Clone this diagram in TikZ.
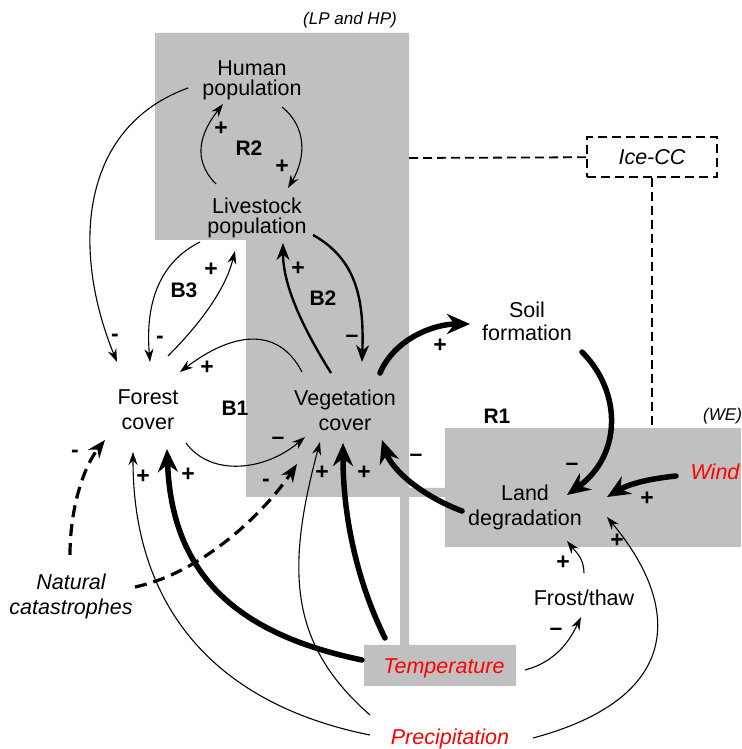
\documentclass[tikz,border=0pt]{standalone}
\usepackage{fontspec}
\setmainfont{Liberation Sans}
\usetikzlibrary{arrows.meta}
\definecolor{boxgray}{RGB}{192,192,192}
\newcommand\sgnplus{+}
\newcommand\sgnminus{\textendash}
\newcommand\sgnshort{-}

\tikzset{
  var/.style={align=center, inner sep=0pt, font=\fontsize{21.5}{25}\selectfont},
  ext/.style={align=center, inner sep=0pt, font=\itshape\fontsize{21.5}{25}\selectfont},
  loopname/.style={inner sep=0pt, font=\bfseries\fontsize{21}{24}\selectfont},
  sgn/.style={inner sep=0pt, font=\bfseries\fontsize{23}{24}\selectfont},
  weak/.style={-{Stealth[length=13pt,width=9pt]}, line width=1.1pt},
  medium/.style={-{Stealth[length=17pt,width=13pt]}, line width=2.4pt},
  strong/.style={-{Stealth[length=23pt,width=20pt]}, line width=5.5pt, line cap=round},
  hazard/.style={-{Stealth[length=18pt,width=14pt]}, line width=3.2pt, dash pattern=on 12pt off 7pt},
  link/.style={line width=1.8pt, dash pattern=on 9pt off 5pt},
}

\begin{document}
\begin{tikzpicture}[x=1pt,y=1pt]
\useasboundingbox (0,0) rectangle (741,749);
\clip (0,0) rectangle (741,749);

% grey areas
\fill[boxgray] (155,716) -- (409,716) -- (409,261) -- (445,261) -- (445,252) -- (409,252)
  -- (409,104) -- (516,104) -- (516,63) -- (364,63) -- (364,104) -- (400,104)
  -- (400,252) -- (246,252) -- (246,509) -- (155,509) -- cycle;
\fill[boxgray] (445,321) rectangle (741,202);
\node[inner sep=0pt, font=\itshape\fontsize{17}{20}\selectfont] (lphplbl) at (350,729) {(LP and HP)};
\node[inner sep=0pt, anchor=west, font=\itshape\fontsize{17}{20}\selectfont] (welbl) at (703,333) {(WE)};
\coordinate (lphp) at (409,591);
\coordinate (we) at (652,321);

% variables
\node[var, font=\fontsize{21.5}{19.5}\selectfont] (hp) at (252,668.5) {Human\\population};
\node[var, font=\fontsize{21.5}{20}\selectfont] (lp) at (257,531) {Livestock\\population};
\node[var] (fc) at (148,339.5) {Forest\\cover};
\node[var] (vc) at (345,339) {Vegetation\\cover};
\node[var, font=\fontsize{21.5}{22.5}\selectfont] (sf) at (527,427.5) {Soil\\formation};
\node[var] (ld) at (525,241.5) {Land\\degradation};
\node[var] (ft) at (584,151) {Frost/thaw};
\node[ext, text=red] (tp) at (444,81) {Temperature};
\node[ext, text=red] (pr) at (450,10) {Precipitation};
\node[ext, text=red] (wd) at (715,277.5) {Wind};
\node[ext] (nc) at (71,153) {Natural\\catastrophes};
\node[ext, draw, link, fill=white, minimum width=130pt, minimum height=40pt] (ice) at (652,592) {Ice-CC};

% loop names
\node[loopname] (r2) at (249,601) {R2};
\node[loopname] (b3) at (184,459) {B3};
\node[loopname] (b2) at (323,451) {B2};
\node[loopname] (b1) at (235,341) {B1};
\node[loopname] (r1) at (497,333) {R1};

% dashed links
\draw[link] (lphp) -- (ice);
\draw[link] (ice) -- (we);

% human and livestock
\draw[weak] ([shift={(30,-26.5)}]hp.center) .. controls +(25,-20) and +(18,30) .. ([shift={(31,30)}]lp.center);
\draw[weak] ([shift={(-41,34)}]lp.center) .. controls +(-25,25) and +(-22,-28) .. ([shift={(-29,-23.5)}]hp.center);
\draw[weak] ([shift={(-64,-7.5)}]hp.center) .. controls +(-110,-40) and +(-45,110) .. ([shift={(-31,47.5)}]fc.center);
\draw[weak] ([shift={(-57,-24)}]lp.center) .. controls +(-40,-20) and +(-5,60) .. ([shift={(2,47.5)}]fc.center);
\draw[weak] ([shift={(20,53.5)}]fc.center) .. controls +(30,30) and +(-10,-40) .. ([shift={(-22,-33)}]lp.center);
\draw[medium] ([shift={(-14,37)}]vc.center) .. controls +(-25,40) and +(0,-45) .. ([shift={(26,-25)}]lp.center);
\draw[medium] ([shift={(56,-17)}]lp.center) .. controls +(45,-25) and +(2,60) .. ([shift={(17,48)}]vc.center);

% forest and vegetation
\draw[weak] ([shift={(-43,38)}]vc.center) .. controls +(-25,48) and +(50,38) .. ([shift={(32,37.5)}]fc.center);
\draw[weak] ([shift={(38,-33.5)}]fc.center) .. controls +(25,-34) and +(-40,-34) .. ([shift={(-40,-27)}]vc.center);

% soil and land
\draw[strong] ([shift={(35,37)}]vc.center) .. controls +(15,35) and +(-35,0) .. ([shift={(-57,-2.5)}]sf.center);
\draw[strong] ([shift={(55,-30.5)}]sf.center) .. controls +(40,-40) and +(55,40) .. ([shift={(42,12.5)}]ld.center);
\draw[strong] ([shift={(-63,-3.5)}]ld.center) .. controls +(-40,15) and +(10,-30) .. ([shift={(37,-30)}]vc.center);
\draw[strong] ([shift={(-39,-4.5)}]wd.center) .. controls +(-30,-3) and +(20,12) .. ([shift={(82,10.5)}]ld.center);
\draw[weak] ([shift={(83,1)}]pr.center) .. controls +(150,40) and +(75,-90) .. ([shift={(82,-9.5)}]ld.center);
\draw[weak] ([shift={(0,25)}]ft.center) .. controls +(0,15) and +(8,-10) .. ([shift={(42,-33.5)}]ld.center);
\draw[weak] ([shift={(81,-2)}]tp.center) .. controls +(30,8) and +(-12,-25) .. ([shift={(-3,-19)}]ft.center);

% climate
\draw[strong] ([shift={(-82,8)}]tp.center) .. controls +(-120,25) and +(5,-130) .. ([shift={(19,-39.5)}]fc.center);
\draw[strong] ([shift={(-59,30)}]tp.center) .. controls +(-25,50) and +(0,-80) .. ([shift={(-2,-33)}]vc.center);
\draw[weak] ([shift={(-80,4)}]pr.center) .. controls +(-150,30) and +(0,-160) .. ([shift={(-15,-42.5)}]fc.center);
\draw[weak] ([shift={(-80,24)}]pr.center) .. controls +(-80,70) and +(-35,-130) .. ([shift={(-25,-32)}]vc.center);

% catastrophes
\draw[hazard] ([shift={(-1,41)}]nc.center) .. controls +(0,50) and +(-20,-25) .. ([shift={(-43,-30.5)}]fc.center);
\draw[hazard] ([shift={(64,9)}]nc.center) .. controls +(70,15) and +(-30,-45) .. ([shift={(-48,-54)}]vc.center);

% polarities
\foreach \x/\y/\s [count=\i] in {115/411/\sgnshort, 160/409/\sgnshort, 211/479/\sgnplus,
  207/381/\sgnplus, 278/308/\sgnminus, 298/480/\sgnplus, 352/410/\sgnminus,
  282/582/\sgnplus, 221/620/\sgnplus, 440/403/\sgnplus, 572/282/\sgnminus,
  416/291/\sgnminus, 647/250/\sgnplus, 617/208/\sgnplus, 563/186/\sgnplus,
  556/117/\sgnminus, 188/274/\sgnplus, 364/276/\sgnplus, 143/272/\sgnplus,
  322/276/\sgnplus, 75/295/\sgnshort, 266/266/\sgnshort}
  \node[sgn] (pol\i) at (\x,\y) {\s};
\end{tikzpicture}
\end{document}
